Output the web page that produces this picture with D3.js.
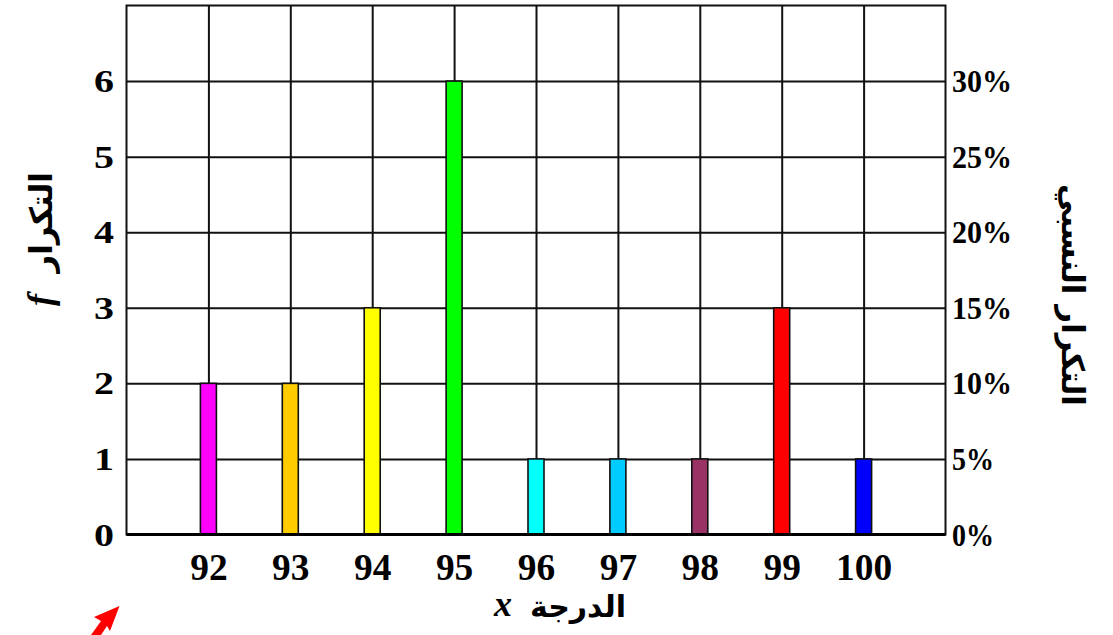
<!DOCTYPE html>
<html><head><meta charset="utf-8">
<script src="https://cdn.jsdelivr.net/npm/d3@7"></script>
<style>
html,body{margin:0;padding:0;background:#fff;}
svg{display:block;}
</style></head>
<body>
<script>
// ---- data ----
const categories = [92, 93, 94, 95, 96, 97, 98, 99, 100];
const frequency  = [2, 2, 3, 6, 1, 1, 1, 3, 1];
const barColors  = ["#FF00FF", "#FFCC00", "#FFFF00", "#00FF00", "#00FFFF", "#00CCFF", "#993366", "#FF0000", "#0000FF"];
const leftTicks  = [0, 1, 2, 3, 4, 5, 6];
const rightTickLabels = ["0%", "5%", "10%", "15%", "20%", "25%", "30%"];
const gridRows   = [1, 2, 3, 4, 5, 6];
const yTitle = "التكرار";
const yTitleVar = "f";
const y2Title = "التكرار النسبي";
const xTitle = "الدرجة";
const xTitleVar = "x";

const W = 1113, H = 635;
const svg = d3.select("body").append("svg").attr("width", W).attr("height", H);

const x = d3.scaleLinear().domain([91, 101]).range([126.5, 945.5]);
const y = d3.scaleLinear().domain([0, 7]).range([534.5, 5.5]);
const plotW = x.range()[1] - x.range()[0];
const plotH = y.range()[0] - y.range()[1];

const serif = "'Liberation Serif','Times New Roman',serif";
const arab = "'DejaVu Sans','Noto Sans',sans-serif";

// ---- grid ----
const gx = svg.append("g").attr("transform", `translate(0,${y(0)})`)
  .call(d3.axisBottom(x).tickValues(categories).tickSize(-plotH).tickFormat(""));
gx.select(".domain").remove();
gx.selectAll("line").attr("stroke", "#111").attr("stroke-width", 2);

const gy = svg.append("g").attr("transform", `translate(${x(91)},0)`)
  .call(d3.axisLeft(y).tickValues(gridRows).tickSize(-plotW).tickFormat(""));
gy.select(".domain").remove();
gy.selectAll("line").attr("stroke", "#111").attr("stroke-width", 2);

// ---- bars ----
svg.append("g").selectAll("rect").data(categories).join("rect")
  .attr("x", (d) => x(d) - 8)
  .attr("width", 16)
  .attr("y", (d, i) => y(frequency[i]))
  .attr("height", (d, i) => y(0) - y(frequency[i]))
  .attr("fill", (d, i) => barColors[i])
  .attr("stroke", "#111")
  .attr("stroke-width", 1.6);

// ---- frame ----
svg.append("rect").attr("x", x(91)).attr("y", y(7))
  .attr("width", plotW).attr("height", plotH)
  .attr("fill", "none").attr("stroke", "#111").attr("stroke-width", 2);
svg.append("line").attr("x1", x(91)).attr("x2", x(101)).attr("y1", y(0)).attr("y2", y(0))
  .attr("stroke", "#000").attr("stroke-width", 3);

// ---- left tick labels ----
const la = svg.append("g").attr("transform", `translate(114,0)`)
  .call(d3.axisLeft(y).tickValues(leftTicks).tickSize(0).tickPadding(0).tickFormat(d3.format("d")));
la.select(".domain").remove();
la.selectAll("text")
  .attr("font-family", serif).attr("font-weight", "bold").attr("font-size", 31)
  .attr("fill", "#000").attr("dy", "0.34em")
  .attr("textLength", 20).attr("lengthAdjust", "spacingAndGlyphs");

// ---- right tick labels ----
const ra = svg.append("g").attr("transform", `translate(952,0)`)
  .call(d3.axisRight(y).tickValues(leftTicks).tickSize(0).tickPadding(0)
    .tickFormat((d, i) => rightTickLabels[i]));
ra.select(".domain").remove();
ra.selectAll("text")
  .attr("font-family", serif).attr("font-weight", "bold").attr("font-size", 31)
  .attr("fill", "#000").attr("dy", "0.34em")
  .attr("textLength", function () { const s = this.textContent; return (s.length - 1) * 18 + 24; })
  .attr("lengthAdjust", "spacingAndGlyphs");

// ---- bottom tick labels ----
const ba = svg.append("g").attr("transform", `translate(0,${y(0)})`)
  .call(d3.axisBottom(x).tickValues(categories).tickSize(0).tickPadding(0));
ba.select(".domain").remove();
ba.selectAll("text")
  .attr("font-family", serif).attr("font-weight", "bold").attr("font-size", 38)
  .attr("fill", "#000").attr("dy", null).attr("y", 45)
  .attr("textLength", function () { return this.textContent.length * 18.7; })
  .attr("lengthAdjust", "spacingAndGlyphs");

// ---- axis titles ----
const lt = svg.append("g").attr("transform", "translate(40,245) rotate(-90)");
lt.append("text").attr("x", 73).attr("y", 12).attr("text-anchor", "end")
  .attr("font-family", arab).attr("font-weight", "bold").attr("font-size", 31)
  .text(yTitle);
lt.append("text").attr("x", -55).attr("y", 12).attr("text-anchor", "middle")
  .attr("font-family", serif).attr("font-weight", "bold").attr("font-style", "italic").attr("font-size", 36)
  .text(yTitleVar);

const rt = svg.append("g").attr("transform", "translate(1070,295) rotate(90)");
rt.append("text").attr("x", 0).attr("y", 8).attr("text-anchor", "middle")
  .attr("font-family", arab).attr("font-weight", "bold").attr("font-size", 31)
  .text(y2Title);

svg.append("text").attr("x", 626).attr("y", 617).attr("text-anchor", "end")
  .attr("font-family", arab).attr("font-weight", "bold").attr("font-size", 30)
  .text(xTitle);
svg.append("text").attr("x", 503).attr("y", 616).attr("text-anchor", "middle")
  .attr("font-family", serif).attr("font-weight", "bold").attr("font-style", "italic").attr("font-size", 36)
  .text(xTitleVar);

// ---- decorative red arrow (bottom-left) ----
svg.append("path")
  .attr("d", "M119.5,606 L94,617 L101,621 L91,635 L101,635 L107,626 L110,631 Z")
  .attr("fill", "#FF0000");
</script>
</body></html>
